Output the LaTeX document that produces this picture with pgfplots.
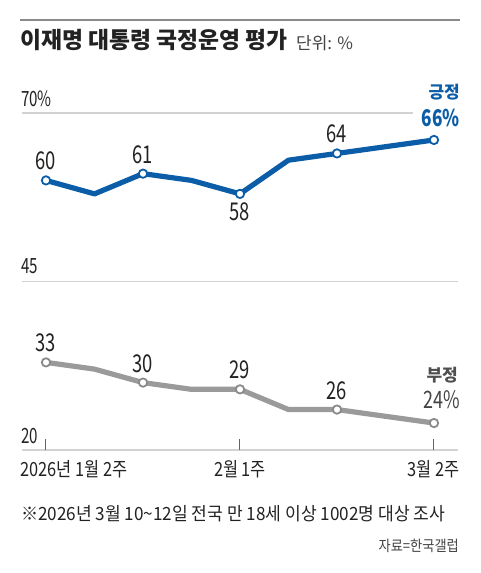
\documentclass[border=0pt]{standalone}
\usepackage{pgfplots}
\pgfplotsset{compat=1.18}
\usepackage{fontspec}
\setmainfont{Noto Sans CJK KR}
\newfontfamily\kr{Noto Sans CJK KR}
\newfontfamily\krn[FakeStretch=0.75]{Noto Sans CJK KR}
\newfontfamily\kry[FakeStretch=0.72]{Noto Sans CJK KR}
\newfontfamily\krx[FakeStretch=0.84]{Noto Sans CJK KR}
\newfontfamily\krm[FakeStretch=0.88]{Noto Sans CJK KR}
\newfontfamily\krf[FakeStretch=0.94]{Noto Sans CJK KR}

\definecolor{posc}{HTML}{0B5DA7}
\definecolor{negc}{HTML}{9A9A9A}
\definecolor{negm}{HTML}{8A8A8A}
\definecolor{txt}{HTML}{222222}
\definecolor{gridc}{HTML}{D2D2D2}

\begin{document}
\begin{tikzpicture}
\useasboundingbox (0,0) rectangle (480pt,573pt);

% title block
\draw[line width=2pt, color=negm] (20pt,553pt) -- (460pt,553pt);
\node[anchor=base west, inner sep=0pt, text=txt] at (20pt,524pt)
    {\kr\bfseries\fontsize{22.8}{24}\selectfont 이재명 대통령 국정운영 평가};
\node[anchor=base west, inner sep=0pt, text=txt!85] at (296pt,523.5pt)
    {\kr\fontsize{17}{18}\selectfont 단위: \%};

\begin{axis}[
    at={(21.75pt,123pt)}, anchor=south west,
    scale only axis, width=436.5pt, height=337pt,
    xmin=-0.5, xmax=8.5, ymin=20, ymax=70,
    axis lines=none, clip=false,
    xtick=\empty, ytick=\empty,
]
% grid lines
\draw[gridc, line width=1.2pt] (axis cs:-0.5,70) -- (axis cs:7.57,70);
\draw[gridc, line width=1.2pt] (axis cs:-0.5,45) -- (axis cs:8.5,45);
\draw[gridc, line width=1.2pt] (axis cs:-0.5,20) -- (axis cs:8.5,20);
% x ticks
\draw[txt!70, line width=1pt] (axis cs:0,20) -- (axis cs:0,21.63);
\draw[txt!70, line width=1pt] (axis cs:4,20) -- (axis cs:4,21.63);
\draw[txt!70, line width=1pt] (axis cs:8,20) -- (axis cs:8,21.63);

% 긍정
\addplot[posc, line width=5.2pt, line join=round,
    mark=*, mark repeat=2, mark phase=1,
    mark options={fill=white, draw=posc, line width=1.8pt}, mark size=4.2pt]
    coordinates {(0,60) (1,58) (2,61) (3,60) (4,58) (5,63) (6,64) (7,65) (8,66)};
% 부정
\addplot[negc, line width=5.2pt, line join=round,
    mark=*, mark repeat=2, mark phase=1,
    mark options={fill=white, draw=negm, line width=1.8pt}, mark size=4.2pt]
    coordinates {(0,33) (1,32) (2,30) (3,29) (4,29) (5,26) (6,26) (7,25) (8,24)};

% value labels
\addplot[draw=none, mark=none, nodes near coords, point meta=explicit symbolic,
    nodes near coords style={anchor=base, yshift=10.5pt, inner sep=0pt,
        text=txt, font=\krn\fontsize{24.5}{25}\selectfont}]
    coordinates {(0,60) [60] (2,61) [61] (6,64) [64]
                 (0,33) [33] (2,30) [30] (4,29) [29] (6,26) [26]};
\addplot[draw=none, mark=none, nodes near coords, point meta=explicit symbolic,
    nodes near coords style={anchor=north, yshift=-9pt, inner sep=0pt,
        text=txt, font=\krn\fontsize{24.5}{25}\selectfont}]
    coordinates {(4,58) [58]};
\end{axis}

% y labels
\node[anchor=base west, inner sep=0pt, text=txt] at (21pt,466.5pt)
    {\kry\fontsize{21}{22}\selectfont 70\%};
\node[anchor=base west, inner sep=0pt, text=txt] at (21pt,299.7pt)
    {\kry\fontsize{21}{22}\selectfont 45};
\node[anchor=base west, inner sep=0pt, text=txt] at (21pt,129pt)
    {\kry\fontsize{21}{22}\selectfont 20};

% x labels
\node[anchor=base west, inner sep=0pt, text=txt] at (20pt,96.5pt)
    {\krx\fontsize{19.5}{20}\selectfont 2026년 1월 2주};
\node[anchor=base, inner sep=0pt, text=txt] at (240pt,96.5pt)
    {\krx\fontsize{19.5}{20}\selectfont 2월 1주};
\node[anchor=base east, inner sep=0pt, text=txt] at (460pt,96.5pt)
    {\krx\fontsize{19.5}{20}\selectfont 3월 2주};

% series labels
\node[anchor=base east, inner sep=0pt, text=posc] at (460pt,474pt)
    {\kr\bfseries\fontsize{17}{18}\selectfont 긍정};
\node[anchor=base east, inner sep=0pt, text=posc] at (460pt,446.5pt)
    {\krn\bfseries\fontsize{23}{24}\selectfont 66\%};
\node[anchor=base east, inner sep=0pt, text=txt!80] at (458pt,191.5pt)
    {\kr\bfseries\fontsize{17}{18}\selectfont 부정};
\node[anchor=base east, inner sep=0pt, text=txt!85] at (460pt,164pt)
    {\krn\fontsize{24}{24}\selectfont 24\%};

% note and source
\node[anchor=base west, inner sep=0pt, text=txt] at (21pt,52pt)
    {\krf\fontsize{18.2}{19}\selectfont ※2026년 3월 10\textasciitilde12일 전국 만 18세 이상 1002명 대상 조사};
\node[anchor=base east, inner sep=0pt, text=txt!85] at (459pt,21pt)
    {\krm\fontsize{15}{16}\selectfont 자료=한국갤럽};
\end{tikzpicture}
\end{document}
